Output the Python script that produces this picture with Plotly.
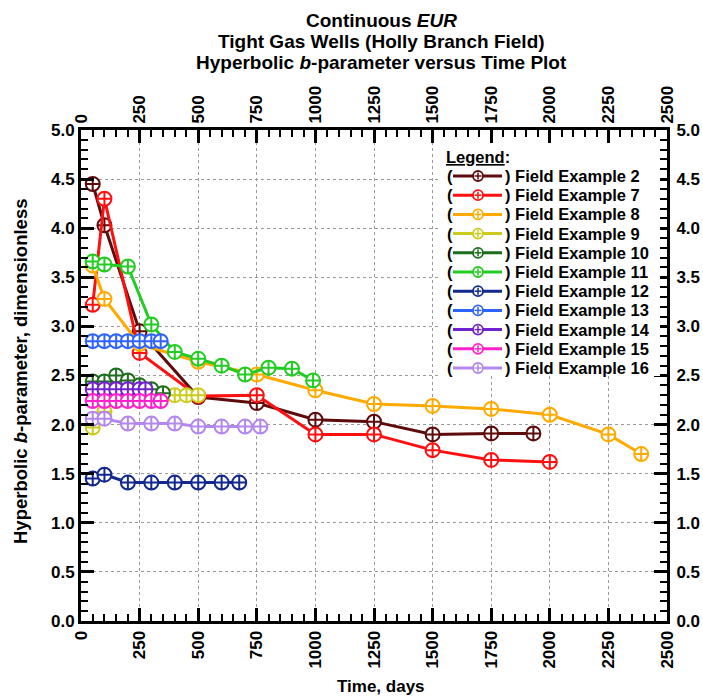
import plotly.graph_objects as go

# ---- data ----
names = ["Field Example 2", "Field Example 7", "Field Example 8", "Field Example 9",
         "Field Example 10", "Field Example 11", "Field Example 12", "Field Example 13",
         "Field Example 14", "Field Example 15", "Field Example 16"]
colors = ["#5e0b0b", "#ff1010", "#ffaa00", "#cccc1e", "#1c6e1c", "#22cc22",
          "#13288c", "#2f63ff", "#7022cc", "#ff22cc", "#b387ec"]

t2 = [50, 100, 250, 500, 750, 1000, 1250, 1500, 1750, 1930]
b2 = [4.45, 4.03, 2.95, 2.28, 2.22, 2.05, 2.03, 1.90, 1.91, 1.91]
t7 = [50, 100, 250, 500, 750, 1000, 1250, 1500, 1750, 2000]
b7 = [3.22, 4.30, 2.73, 2.29, 2.30, 1.90, 1.90, 1.74, 1.64, 1.62]
t8 = [50, 100, 250, 500, 750, 1000, 1250, 1500, 1750, 2000, 2250, 2390]
b8 = [3.62, 3.28, 2.82, 2.64, 2.51, 2.35, 2.21, 2.19, 2.16, 2.10, 1.90, 1.70]
t9 = [50, 100, 150, 200, 250, 300, 350, 400, 450, 500]
b9 = [1.97, 2.13, 2.27, 2.28, 2.28, 2.29, 2.29, 2.30, 2.30, 2.30]
t10 = [50, 100, 150, 200, 250, 300, 350]
b10 = [2.44, 2.44, 2.50, 2.45, 2.40, 2.36, 2.32]
t11 = [50, 100, 200, 300, 400, 500, 600, 700, 800, 900, 990]
b11 = [3.66, 3.63, 3.61, 3.02, 2.74, 2.67, 2.60, 2.51, 2.58, 2.57, 2.45]
t12 = [50, 100, 200, 300, 400, 500, 600, 675]
b12 = [1.45, 1.49, 1.41, 1.41, 1.41, 1.41, 1.41, 1.41]
t13 = [50, 100, 150, 200, 250, 300, 340]
b13 = [2.85, 2.85, 2.85, 2.85, 2.85, 2.85, 2.85]
t14 = [50, 100, 150, 200, 250, 275]
b14 = [2.36, 2.36, 2.36, 2.36, 2.36, 2.36]
t15 = [50, 100, 150, 200, 250, 300, 340]
b15 = [2.24, 2.24, 2.24, 2.24, 2.24, 2.24, 2.24]
t16 = [50, 100, 200, 300, 400, 500, 600, 700, 765]
b16 = [2.06, 2.06, 2.01, 2.01, 2.01, 1.98, 1.98, 1.98, 1.98]

times = [t2, t7, t8, t9, t10, t11, t12, t13, t14, t15, t16]
bvals = [b2, b7, b8, b9, b10, b11, b12, b13, b14, b15, b16]

x_ticks = [0, 250, 500, 750, 1000, 1250, 1500, 1750, 2000, 2250, 2500]
y_ticks = [0.0, 0.5, 1.0, 1.5, 2.0, 2.5, 3.0, 3.5, 4.0, 4.5, 5.0]

FONT = "Liberation Sans, Arial, sans-serif"

# plot-area geometry (pixels) used for placing text / legend pieces
W, H = 703, 698
ML, MR, MT, MB = 81, 36, 130, 77
PW, PH = W - ML - MR, H - MT - MB


def px(x):
    return (x - ML) / PW


def py(y):
    return (H - MB - y) / PH


fig = go.Figure()
for name, col, tx, bx in zip(names, colors, times, bvals):
    fig.add_trace(go.Scatter(
        x=tx, y=bx, mode="lines+markers", name=name, showlegend=False,
        line=dict(color=col, width=3),
        marker=dict(symbol="circle-cross", size=14, color="white",
                    line=dict(color=col, width=2)),
    ))

tickfont = dict(family=FONT, size=17, color="black", weight="bold")
common_x = dict(range=[0, 2500], tickvals=x_ticks, ticktext=[str(v) for v in x_ticks],
                tickangle=-90, ticks="inside", ticklen=13, tickwidth=2.5, tickcolor="black",
                showline=True, linewidth=3, linecolor="black", tickfont=tickfont,
                minor=dict(ticks="inside", ticklen=7, tickwidth=2, tickcolor="black",
                           dtick=50, showgrid=False),
                zeroline=False, automargin=False)
common_y = dict(range=[0, 5], tickvals=y_ticks, ticktext=["%.1f" % v for v in y_ticks],
                ticks="inside", ticklen=13, tickwidth=2.5, tickcolor="black",
                showline=True, linewidth=3, linecolor="black", tickfont=tickfont,
                minor=dict(ticks="inside", ticklen=7, tickwidth=2, tickcolor="black",
                           dtick=0.1, showgrid=False),
                zeroline=False, automargin=False)

fig.update_layout(
    width=W, height=H, autosize=False,
    margin=dict(l=ML, r=MR, t=MT, b=MB, autoexpand=False),
    paper_bgcolor="white", plot_bgcolor="white",
    xaxis=dict(**common_x, showgrid=True, gridcolor="#9a9a9a", griddash="dot", gridwidth=1),
    yaxis=dict(**common_y, showgrid=True, gridcolor="#9a9a9a", griddash="dot", gridwidth=1),
    xaxis2=dict(**common_x, overlaying="x", side="top", matches="x", showgrid=False),
    yaxis2=dict(**common_y, overlaying="y", side="right", matches="y", showgrid=False,
                ticklabelstandoff=3),
    showlegend=False,
)

# invisible helper trace so the mirrored top/right axes are drawn
fig.add_trace(go.Scatter(x=[None], y=[None], xaxis="x2", yaxis="y2",
                         showlegend=False, hoverinfo="skip"))

# ---- title ----
title_lines = ["Continuous <i>EUR</i>", "Tight Gas Wells (Holly Branch Field)",
               "Hyperbolic <i>b</i>-parameter versus Time Plot"]
for i, line in enumerate(title_lines):
    fig.add_annotation(text="<b>" + line + "</b>", xref="paper", yref="paper",
                       x=px(381), y=py(20 + 21.5 * i), showarrow=False,
                       xanchor="center", yanchor="middle",
                       font=dict(family=FONT, size=19, color="black"))

# ---- axis titles ----
fig.add_annotation(text="<b>Hyperbolic <i>b</i>-parameter, dimensionless</b>",
                   xref="paper", yref="paper", x=px(20), y=py(372), textangle=-90,
                   showarrow=False, xanchor="center", yanchor="middle",
                   font=dict(family=FONT, size=18.5, color="black"))
fig.add_annotation(text="<b>Time, days</b>",
                   xref="paper", yref="paper", x=px(381), y=py(686),
                   showarrow=False, xanchor="center", yanchor="middle",
                   font=dict(family=FONT, size=17, color="black"))

# ---- hand-built legend (white box, line swatch with marker, text) ----
LEG_FS = 16.5
shapes = [dict(type="rect", xref="paper", yref="paper", x0=px(441), x1=px(660),
               y0=py(143), y1=py(376), fillcolor="white", line=dict(width=0), layer="above")]
fig.add_annotation(text="<b><u>Legend</u>:</b>", xref="paper", yref="paper",
                   x=px(444), y=py(157), showarrow=False, xanchor="left", yanchor="middle",
                   font=dict(family=FONT, size=LEG_FS, color="black"))
LEG_Y0, LEG_DY = 176, 19.2
for i, (name, col) in enumerate(zip(names, colors)):
    yy = py(LEG_Y0 + LEG_DY * i)
    shapes.append(dict(type="line", xref="paper", yref="paper", x0=px(453), x1=px(502),
                       y0=yy, y1=yy, line=dict(color=col, width=3), layer="above"))
    shapes.append(dict(type="circle", xref="paper", yref="paper",
                       xsizemode="pixel", ysizemode="pixel", xanchor=px(478), yanchor=yy,
                       x0=-5, x1=5, y0=-5, y1=5, fillcolor="white",
                       line=dict(color=col, width=1.8), layer="above"))
    shapes.append(dict(type="line", xref="paper", yref="paper",
                       xsizemode="pixel", ysizemode="pixel", xanchor=px(478), yanchor=yy,
                       x0=-3.5, x1=3.5, y0=0, y1=0, line=dict(color=col, width=1.5), layer="above"))
    shapes.append(dict(type="line", xref="paper", yref="paper",
                       xsizemode="pixel", ysizemode="pixel", xanchor=px(478), yanchor=yy,
                       x0=0, x1=0, y0=-3.5, y1=3.5, line=dict(color=col, width=1.5), layer="above"))
    fig.add_annotation(text="<b>(</b>", xref="paper", yref="paper", x=px(445), y=yy,
                       showarrow=False, xanchor="left", yanchor="middle",
                       font=dict(family=FONT, size=LEG_FS, color="black"))
    fig.add_annotation(text="<b>) " + name + "</b>", xref="paper", yref="paper", x=px(503), y=yy,
                       showarrow=False, xanchor="left", yanchor="middle",
                       font=dict(family=FONT, size=LEG_FS, color="black"))
fig.update_layout(shapes=shapes)

fig.write_html("out.html")
